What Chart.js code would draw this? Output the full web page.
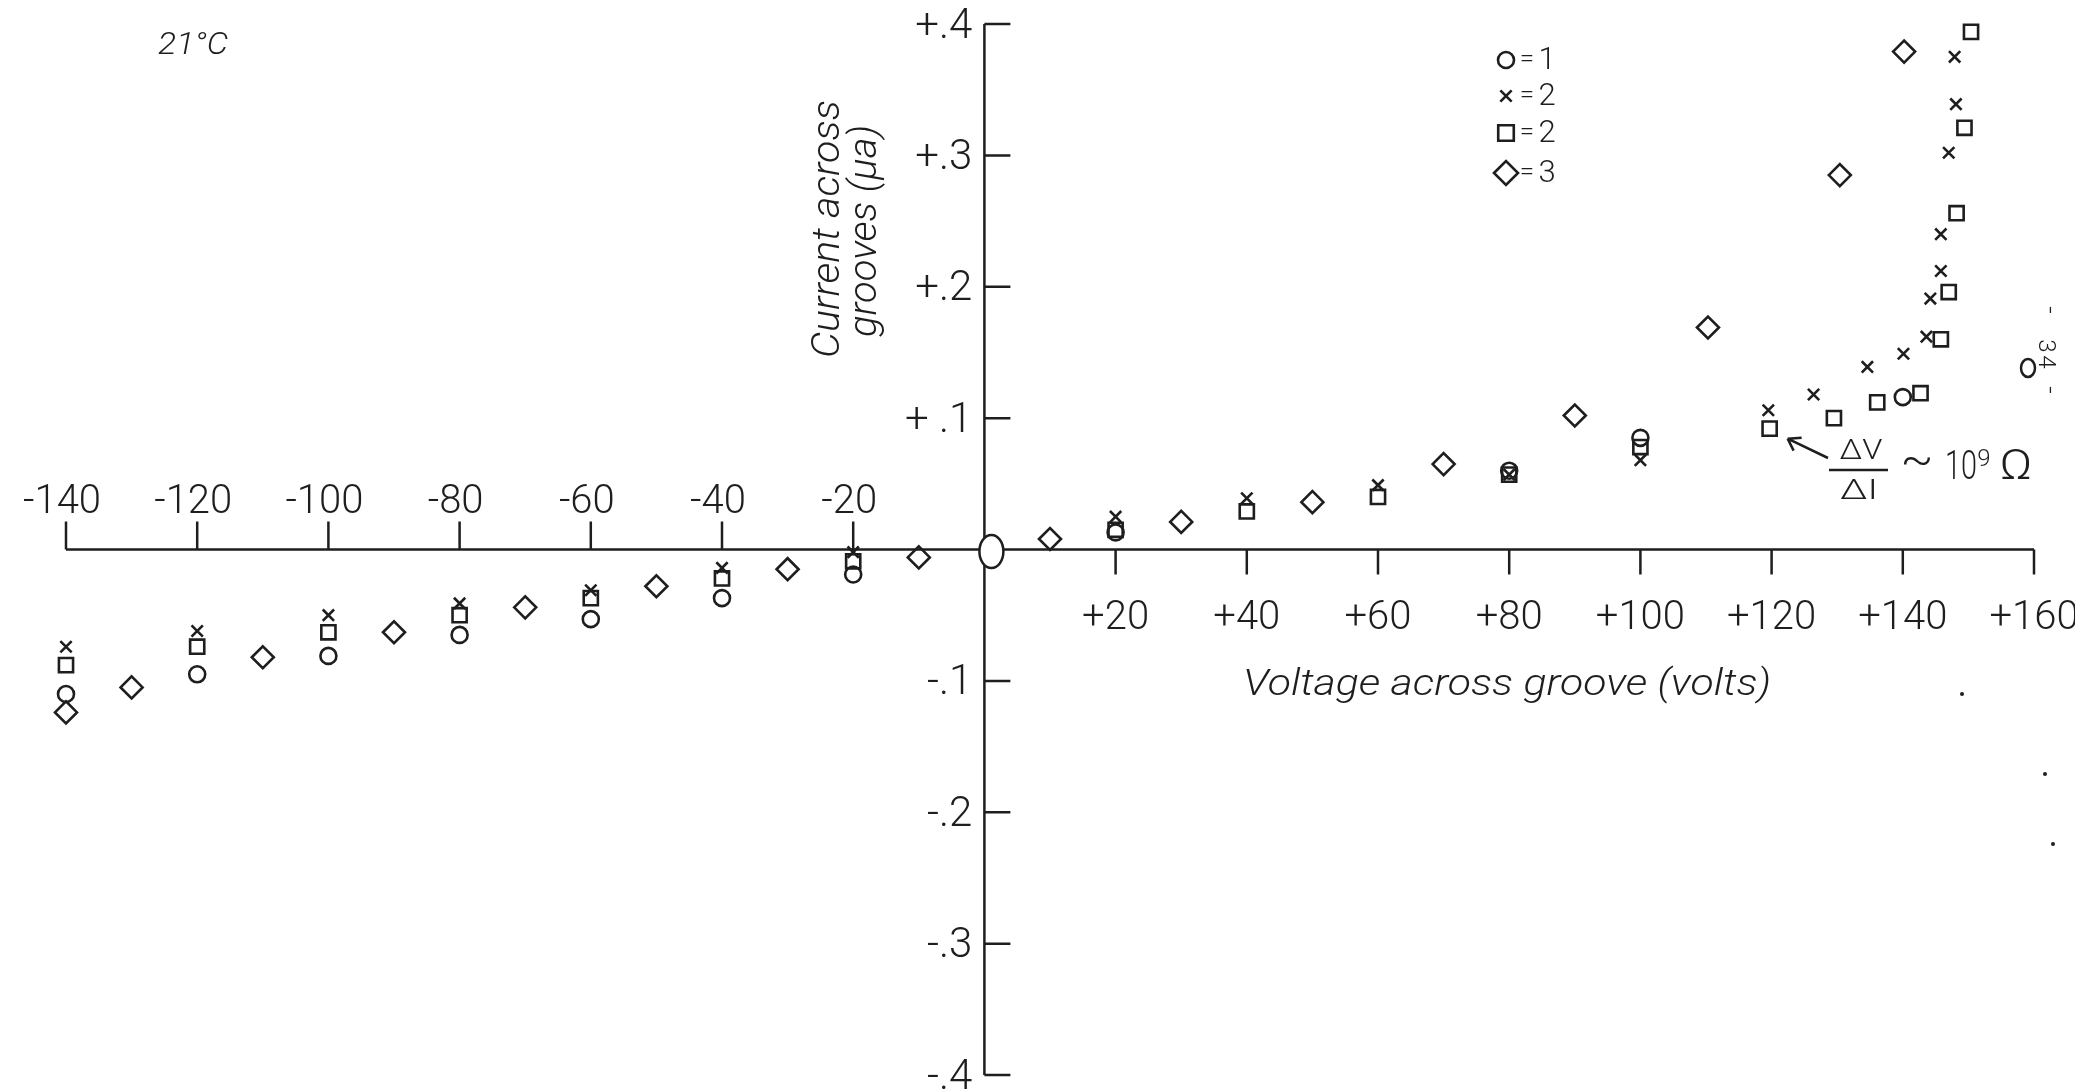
<!DOCTYPE html>
<html>
<head>
<meta charset="utf-8">
<script src="https://cdn.jsdelivr.net/npm/chart.js@4.4.0/dist/chart.umd.min.js"></script>
<style>
  html, body { margin: 0; padding: 0; background: #fff; }
  #wrap { width: 2075px; height: 1091px; }
</style>
</head>
<body>
<div id="wrap"><canvas id="chart" width="2075" height="1091"></canvas></div>
<script>
// Axis ticks
const xTicks = [-140, -120, -100, -80, -60, -40, -20, 20, 40, 60, 80, 100, 120, 140, 160];
const xTickLabels = ['-140', '-120', '-100', '-80', '-60', '-40', '-20', '+20', '+40', '+60', '+80', '+100', '+120', '+140', '+160'];
const yTicks = [0.4, 0.3, 0.2, 0.1, -0.1, -0.2, -0.3, -0.4];
const yTickLabels = ['+.4', '+.3', '+.2', '+ .1', '-.1', '-.2', '-.3', '-.4'];

// o = 1
const circleV = [-140, -120, -100, -80, -60, -40, -20, 20, 80, 100, 140];
const circleI = [-0.110, -0.095, -0.081, -0.065, -0.053, -0.037, -0.019, 0.013, 0.060, 0.085, 0.116];

// x = 2
const crossV = [-140, -120, -100, -80, -60, -40, -20, 20, 40, 60, 80, 100, 119.5, 126.4, 134.6, 140.1, 143.6, 144.2, 145.8, 145.8, 147.0, 148.1, 147.9, 148.5];
const crossI = [-0.074, -0.062, -0.050, -0.041, -0.031, -0.014, -0.002, 0.025, 0.039, 0.049, 0.057, 0.068, 0.106, 0.118, 0.139, 0.149, 0.162, 0.191, 0.212, 0.240, 0.302, 0.339, 0.375, 0.416];

// square = 2
const squareV = [-140, -120, -100, -80, -60, -40, -20, 20, 40, 60, 80, 100, 119.7, 129.5, 136.1, 142.7, 145.8, 147.0, 148.2, 149.4, 150.4];
const squareI = [-0.088, -0.074, -0.063, -0.050, -0.037, -0.022, -0.009, 0.015, 0.029, 0.040, 0.057, 0.078, 0.092, 0.100, 0.112, 0.119, 0.160, 0.196, 0.256, 0.321, 0.394];

// diamond = 3
const diamondV = [-140, -130, -110, -90, -70, -50, -30, -10, 10, 30, 50, 70, 90, 110.3, 130.4, 140.2];
const diamondI = [-0.124, -0.105, -0.082, -0.063, -0.044, -0.028, -0.015, -0.006, 0.008, 0.021, 0.036, 0.065, 0.102, 0.169, 0.285, 0.379];

const INK = '#1e1e1e';
const FONT = 'Roboto, "DejaVu Sans", "Liberation Sans", sans-serif';

function pts(xs, ys) {
    return xs.map((x, i) => ({ x: x, y: ys[i] }));
}

function series(label, xs, ys, style, radius) {
    return {
        label: label,
        data: pts(xs, ys),
        pointStyle: style,
        pointRadius: radius,
        pointHoverRadius: radius,
        pointBorderWidth: 2.6,
        borderColor: INK,
        backgroundColor: 'rgba(0,0,0,0)',
        showLine: false,
        clip: false
    };
}

// text helper: centred on (x, y), optional rotation and target width
function txt(ctx, s, x, y, size, o) {
    o = o || {};
    ctx.save();
    ctx.font = (o.italic ? 'italic ' : '') + '300 ' + size + 'px ' + FONT;
    ctx.fillStyle = INK;
    ctx.textAlign = o.align || 'center';
    ctx.textBaseline = 'middle';
    ctx.translate(x, y);
    if (o.rot) ctx.rotate(o.rot);
    if (o.width) {
        const w = ctx.measureText(s).width;
        ctx.scale(o.width / w, 1);
    }
    ctx.fillText(s, 0, 0);
    ctx.restore();
}

function marker(ctx, style, r, x, y) {
    ctx.save();
    ctx.strokeStyle = INK;
    ctx.lineWidth = 2.6;
    ctx.beginPath();
    if (style === 'circle') {
        ctx.arc(x, y, r, 0, Math.PI * 2);
    } else if (style === 'rect') {
        const s = r * Math.SQRT1_2;
        ctx.rect(x - s, y - s, 2 * s, 2 * s);
    } else if (style === 'rectRot') {
        ctx.moveTo(x - r, y); ctx.lineTo(x, y - r); ctx.lineTo(x + r, y); ctx.lineTo(x, y + r); ctx.closePath();
    } else {
        const s = r * Math.SQRT1_2;
        ctx.moveTo(x - s, y - s); ctx.lineTo(x + s, y + s);
        ctx.moveTo(x + s, y - s); ctx.lineTo(x - s, y + s);
    }
    ctx.stroke();
    ctx.restore();
}

// Hand-drawn style axes, labels and notes
const paperAxes = {
    id: 'paperAxes',
    beforeDatasetsDraw(chart) {
        const ctx = chart.ctx;
        const sx = chart.scales.x, sy = chart.scales.y;
        const x0 = sx.getPixelForValue(0), y0 = sy.getPixelForValue(0);

        ctx.save();
        ctx.strokeStyle = INK;
        ctx.lineWidth = 2.5;
        ctx.lineCap = 'butt';

        // x axis
        ctx.beginPath();
        ctx.moveTo(sx.getPixelForValue(-140), y0);
        ctx.lineTo(sx.getPixelForValue(160), y0);
        // y axis
        ctx.moveTo(x0, sy.getPixelForValue(0.4));
        ctx.lineTo(x0, sy.getPixelForValue(-0.4));
        // x ticks: up on the negative side, down on the positive side
        xTicks.forEach(v => {
            const p = sx.getPixelForValue(v);
            ctx.moveTo(p, y0);
            ctx.lineTo(p, v < 0 ? y0 - 28 : y0 + 25);
        });
        // y ticks to the right
        yTicks.forEach(v => {
            const p = sy.getPixelForValue(v);
            ctx.moveTo(x0, p);
            ctx.lineTo(x0 + 26, p);
        });
        ctx.stroke();

        // origin
        ctx.beginPath();
        ctx.ellipse(x0 + 7, y0 + 2, 12, 16.5, 0, 0, Math.PI * 2);
        ctx.fillStyle = '#fff';
        ctx.fill();
        ctx.stroke();
        ctx.restore();

        // tick labels
        xTicks.forEach((v, i) => {
            const p = sx.getPixelForValue(v);
            txt(ctx, xTickLabels[i], p - (v < 0 ? 4 : 0), v < 0 ? y0 - 47 : y0 + 69, 40);
        });
        yTicks.forEach((v, i) => {
            txt(ctx, yTickLabels[i], x0 - 12, sy.getPixelForValue(v) + 3, 42, { align: 'right' });
        });

        // axis titles
        txt(ctx, 'Voltage across groove (volts)', 1507, 686, 36, { italic: true, width: 528 });
        txt(ctx, 'Current across', 829, 229, 38, { italic: true, rot: -Math.PI / 2, width: 258 });
        txt(ctx, 'grooves (\u03bca)', 866, 231, 38, { italic: true, rot: -Math.PI / 2, width: 212 });

        // temperature
        txt(ctx, '21\u00b0C', 193, 46, 32, { italic: true, width: 70 });

        // legend
        const leg = [['circle', 8, '1', 60], ['crossRot', 8, '2', 96], ['rect', 11, '2', 133], ['rectRot', 12, '3', 173]];
        leg.forEach(l => {
            marker(ctx, l[0], l[1], 1506, l[3]);
            txt(ctx, '=', 1527, l[3], 26);
            txt(ctx, l[2], 1547, l[3] + 1, 31);
        });

        // resistance note with arrow to the +120 V square
        ctx.save();
        ctx.strokeStyle = INK;
        ctx.fillStyle = INK;
        ctx.lineWidth = 2.5;
        const tipX = sx.getPixelForValue(119.7) + 18, tipY = sy.getPixelForValue(0.092) + 10;
        ctx.beginPath();
        ctx.moveTo(1828, 458);
        ctx.lineTo(tipX, tipY);
        ctx.moveTo(tipX, tipY);
        ctx.lineTo(tipX + 14, tipY - 1);
        ctx.moveTo(tipX, tipY);
        ctx.lineTo(tipX + 6, tipY + 12);
        // fraction bar
        ctx.moveTo(1829, 470);
        ctx.lineTo(1888, 470);
        ctx.stroke();
        ctx.restore();
        txt(ctx, '\u0394V', 1861, 452, 28, { width: 43 });
        txt(ctx, '\u0394I', 1859, 492, 28, { width: 38 });
        txt(ctx, '~', 1917, 463, 44, { width: 33 });
        txt(ctx, '10', 1961, 469, 40, { width: 32 });
        txt(ctx, '9', 1984, 460, 24);
        txt(ctx, '\u03a9', 2016, 468, 42, { width: 33 });

        // page number, written sideways
        txt(ctx, '-', 2048, 310, 26, { rot: Math.PI / 2 });
        txt(ctx, '3', 2045, 346, 24, { rot: Math.PI / 2 });
        txt(ctx, '4', 2045, 362, 24, { rot: Math.PI / 2 });
        txt(ctx, '-', 2048, 390, 26, { rot: Math.PI / 2 });
        ctx.save();
        ctx.strokeStyle = INK;
        ctx.lineWidth = 2.5;
        ctx.beginPath();
        ctx.ellipse(2028, 368, 7, 9, 0, 0, Math.PI * 2);
        ctx.stroke();
        // specks on the scan
        ctx.fillStyle = INK;
        [[1962, 694], [2045, 774], [2053, 844]].forEach(d => {
            ctx.beginPath();
            ctx.arc(d[0], d[1], 2, 0, Math.PI * 2);
            ctx.fill();
        });
        ctx.restore();
    }
};

const chart = new Chart(document.getElementById('chart'), {
    type: 'scatter',
    data: {
        datasets: [
            series('o = 1', circleV, circleI, 'circle', 8),
            series('x = 2', crossV, crossI, 'crossRot', 8),
            series('\u25a1 = 2', squareV, squareI, 'rect', 10),
            series('\u25c7 = 3', diamondV, diamondI, 'rectRot', 11)
        ]
    },
    options: {
        responsive: false,
        animation: false,
        devicePixelRatio: 1,
        layout: { padding: { left: 66, right: 41, top: 24, bottom: 16 } },
        plugins: {
            legend: { display: false },
            tooltip: { enabled: false }
        },
        scales: {
            x: { type: 'linear', min: -140, max: 160, display: false },
            y: { type: 'linear', min: -0.4, max: 0.4, display: false }
        }
    },
    plugins: [paperAxes]
});
</script>
</body>
</html>
